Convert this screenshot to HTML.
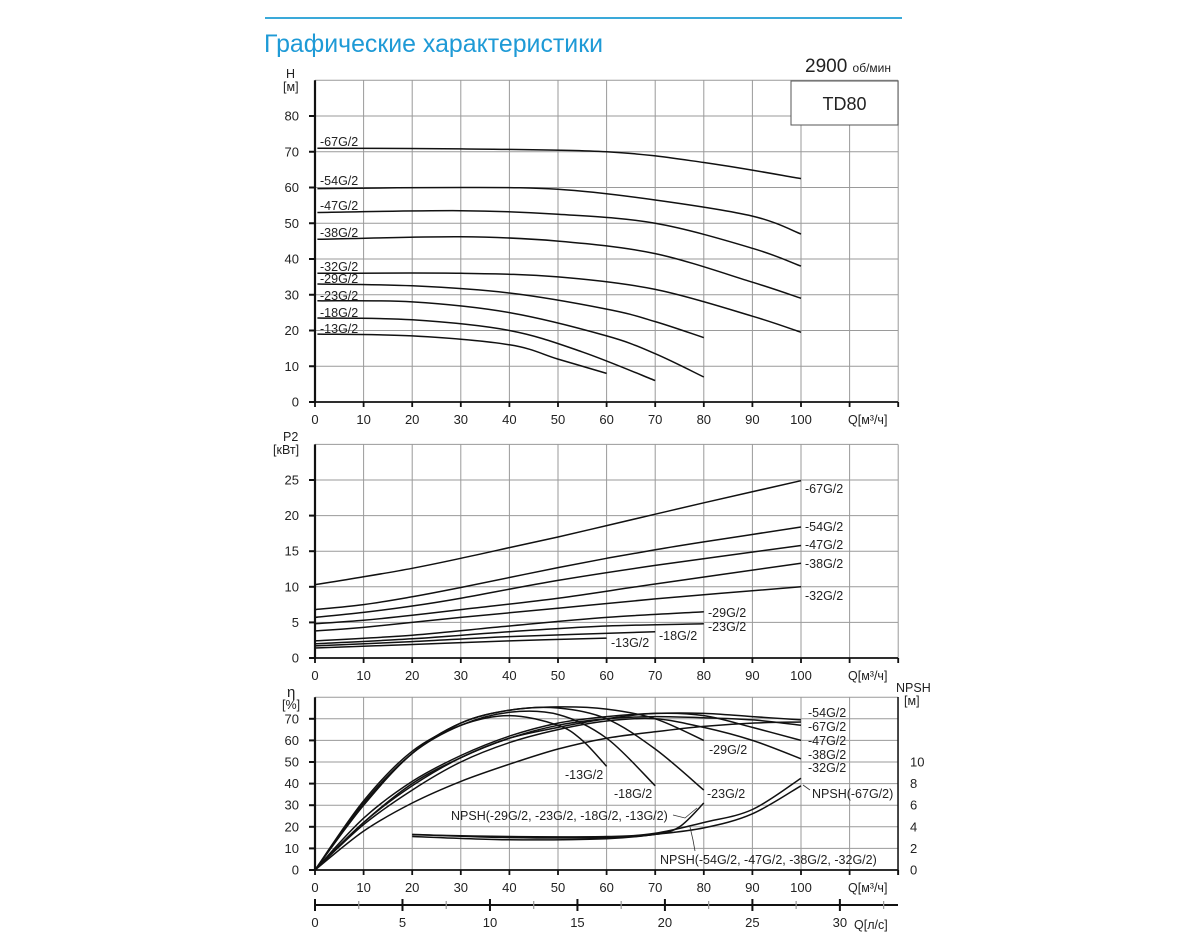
<!DOCTYPE html>
<html><head><meta charset="utf-8">
<style>
html,body{margin:0;padding:0;background:#fff;}
svg{display:block;font-family:"Liberation Sans",Arial,sans-serif;}
</style></head>
<body>
<svg id="s" width="1200" height="950" viewBox="0 0 1200 950" xmlns="http://www.w3.org/2000/svg">
<line x1="265" y1="18" x2="902" y2="18" stroke="#3aa9d9" stroke-width="2"/>
<text x="264" y="52" font-size="25" fill="#1e9ad6" textLength="339" lengthAdjust="spacingAndGlyphs">Графические характеристики</text>
<text x="805" y="72" font-size="19" fill="#222">2900 <tspan font-size="12">об/мин</tspan></text>
<g id="grid"></g>
<g id="curves" fill="none" stroke="#111" stroke-width="1.5"></g>
<rect x="791" y="81" width="107" height="44" fill="#fff" stroke="#555" stroke-width="1"/>
<text x="844.5" y="110" font-size="18" text-anchor="middle" fill="#222">TD80</text>
<g font-size="12.5" fill="#222">
<text x="286" y="78">H</text><text x="283" y="91">[м]</text>
<text x="283" y="441">P2</text><text x="273" y="454">[кВт]</text>
<text x="287" y="697" font-size="15">η</text><text x="282" y="709">[%]</text>
<text x="896" y="692">NPSH</text><text x="904" y="705">[м]</text>
<text x="848" y="424">Q[м³/ч]</text>
<text x="848" y="680">Q[м³/ч]</text>
<text x="848" y="892">Q[м³/ч]</text>
<text x="854" y="929">Q[л/с]</text>
</g>
<g font-size="12.5" fill="#222">
<text x="320" y="146">-67G/2</text>
<text x="320" y="185">-54G/2</text>
<text x="320" y="210">-47G/2</text>
<text x="320" y="237">-38G/2</text>
<text x="320" y="271">-32G/2</text>
<text x="320" y="283">-29G/2</text>
<text x="320" y="300">-23G/2</text>
<text x="320" y="317">-18G/2</text>
<text x="320" y="333">-13G/2</text>

<text x="805" y="493">-67G/2</text>
<text x="805" y="531">-54G/2</text>
<text x="805" y="549">-47G/2</text>
<text x="805" y="568">-38G/2</text>
<text x="805" y="600">-32G/2</text>
<text x="708" y="617">-29G/2</text>
<text x="708" y="631">-23G/2</text>
<text x="659" y="640">-18G/2</text>
<text x="611" y="647">-13G/2</text>

<text x="808" y="717">-54G/2</text>
<text x="808" y="731">-67G/2</text>
<text x="808" y="745">-47G/2</text>
<text x="808" y="759">-38G/2</text>
<text x="808" y="772">-32G/2</text>
<text x="709" y="754">-29G/2</text>
<text x="565" y="779">-13G/2</text>
<text x="614" y="798">-18G/2</text>
<text x="707" y="798">-23G/2</text>
<text x="812" y="798">NPSH(-67G/2)</text>
<text x="451" y="820">NPSH(-29G/2, -23G/2, -18G/2, -13G/2)</text>
<text x="660" y="864">NPSH(-54G/2, -47G/2, -38G/2, -32G/2)</text>
</g>
<g stroke="#333" stroke-width="0.8" fill="none">
<polyline points="673,815 685,818 697,808"/>
<polyline points="695,851 693,840 690,827"/>
<polyline points="810,790 803,785"/>
</g>
<g id="ticks" font-size="13" fill="#222"></g>
</svg>
<script>
var NS="http://www.w3.org/2000/svg";
function el(p,t,a,txt){var e=document.createElementNS(NS,t);for(var k in a)e.setAttribute(k,a[k]);if(txt!==undefined)e.textContent=txt;p.appendChild(e);return e;}
var X=function(q){return 315+q*4.86;};
var grid=document.getElementById('grid'),cur=document.getElementById('curves'),tk=document.getElementById('ticks');
var panels=[
 {y0:402,k:3.575,max:90,step:10,lab:[0,10,20,30,40,50,60,70,80],xl:419},
 {y0:658,k:7.12,max:30,step:5,lab:[0,5,10,15,20,25],xl:675},
 {y0:870,k:2.16,max:80,step:10,lab:[0,10,20,30,40,50,60,70],xl:887}
];
panels.forEach(function(p){
 var top=p.y0-p.max*p.k;
 for(var v=p.step;v<=p.max;v+=p.step){var y=p.y0-v*p.k;el(grid,'line',{x1:315,x2:898,y1:y,y2:y,stroke:'#9a9a9a','stroke-width':1});}
 for(var q=10;q<=120;q+=10){el(grid,'line',{x1:X(q),x2:X(q),y1:top,y2:p.y0,stroke:'#9a9a9a','stroke-width':1});}
 el(grid,'line',{x1:315,x2:315,y1:top,y2:p.y0+1,stroke:'#111','stroke-width':2.2});
 el(grid,'line',{x1:314,x2:898,y1:p.y0,y2:p.y0,stroke:'#111','stroke-width':1.8});
 p.lab.forEach(function(v){var y=p.y0-v*p.k;el(grid,'line',{x1:309,x2:315,y1:y,y2:y,stroke:'#111','stroke-width':2});
  el(tk,'text',{x:299,y:y+4.5,'text-anchor':'end'},String(v));});
 for(var q=0;q<=120;q+=10){el(grid,'line',{x1:X(q),x2:X(q),y1:p.y0,y2:p.y0+5,stroke:'#111','stroke-width':1.8});
  if(q<=100)el(tk,'text',{x:X(q),y:p.xl+5,'text-anchor':'middle'},String(q));}
});
[0,2,4,6,8,10].forEach(function(v){var y=870-v*10.8;el(tk,'text',{x:910,y:y+4.5},String(v));});
el(grid,'line',{x1:898,x2:898,y1:697,y2:875,stroke:'#111','stroke-width':1.5});
el(grid,'line',{x1:315,x2:898,y1:905,y2:905,stroke:'#111','stroke-width':2});
for(var l=0;l<=32.5;l+=2.5){var x=X(l*3.6),maj=(l%5===0);
 el(grid,'line',{x1:x,x2:x,y1:maj?899:901,y2:maj?911:909,stroke:maj?'#111':'#999','stroke-width':maj?2:1.2});
 if(maj)el(tk,'text',{x:x,y:927,'text-anchor':'middle'},String(l));}
function path(pts,p){
 var P=pts.map(function(a){return [X(a[0]),p.y0-a[1]*p.k];});
 var d='M'+P[0][0].toFixed(1)+','+P[0][1].toFixed(1);
 for(var i=0;i<P.length-1;i++){var p0=P[i-1]||P[i],p1=P[i],p2=P[i+1],p3=P[i+2]||p2;
  var c1=[p1[0]+(p2[0]-p0[0])/6,p1[1]+(p2[1]-p0[1])/6],c2=[p2[0]-(p3[0]-p1[0])/6,p2[1]-(p3[1]-p1[1])/6];
  d+='C'+c1[0].toFixed(1)+','+c1[1].toFixed(1)+' '+c2[0].toFixed(1)+','+c2[1].toFixed(1)+' '+p2[0].toFixed(1)+','+p2[1].toFixed(1);}
 el(cur,'path',{d:d});
}
var H=[
[[0.5,71],[30,70.8],[60,70],[80,67],[100,62.5]],
[[0.5,59.7],[30,60],[50,59.5],[70,56.5],[90,52],[100,47]],
[[0.5,53],[30,53.5],[50,52.5],[70,50],[90,43],[100,38]],
[[0.5,45.5],[30,46.2],[50,45],[70,41.5],[90,33.5],[100,29]],
[[0.5,36],[30,36],[50,35],[70,31.5],[90,24],[100,19.5]],
[[0.5,33],[20,32.5],[40,30.5],[60,26],[70,22.5],[80,18]],
[[0.5,28.3],[20,28],[40,25],[60,18.5],[70,13.5],[80,7]],
[[0.5,23.5],[20,23],[40,20],[55,14],[70,6]],
[[0.5,19],[20,18.5],[40,16],[50,12],[60,8]]];
H.forEach(function(c){path(c,panels[0]);});
var P2=[
[[0,10.3],[10,11.4],[20,12.6],[30,14],[40,15.5],[50,17],[60,18.6],[70,20.2],[80,21.8],[100,24.9]],
[[0,6.8],[10,7.5],[20,8.6],[30,9.9],[40,11.3],[50,12.7],[60,14],[70,15.2],[80,16.3],[100,18.4]],
[[0,5.7],[10,6.4],[20,7.3],[30,8.4],[50,10.9],[70,13],[100,15.8]],
[[0,4.8],[10,5.3],[20,6],[30,6.8],[50,8.4],[70,10.4],[100,13.3]],
[[0,3.8],[10,4.3],[30,5.7],[50,7],[70,8.3],[100,10]],
[[0,2.4],[20,3.2],[40,4.5],[60,5.7],[80,6.5]],
[[0,2],[20,2.7],[40,3.7],[60,4.5],[80,4.8]],
[[0,1.7],[20,2.3],[40,3],[70,3.7]],
[[0,1.4],[20,1.9],[40,2.4],[60,2.8]]];
P2.forEach(function(c){path(c,panels[1]);});
var E=[
[[0,0],[10,32],[20,55],[30,67],[40,71.5],[50,67],[55,60],[60,48]],
[[0,0],[10,31],[20,54],[30,67],[40,73],[50,72],[60,61],[70,39]],
[[0,0],[10,30],[20,54],[30,68],[40,74],[50,75],[60,70],[70,56],[80,37]],
[[0,0],[10,30],[20,54],[30,68],[40,74],[50,75.5],[60,74.5],[70,70],[80,60]],
[[0,0],[10,24],[20,41],[30,53],[40,62],[50,68],[60,71],[70,72.5],[80,72.5],[90,71],[100,69.5]],
[[0,0],[10,22],[20,40],[30,52],[40,61],[50,67],[60,70],[70,71],[80,70.5],[90,69.5],[100,67]],
[[0,0],[10,22],[20,39],[30,52],[40,61],[50,66],[60,70],[70,72.5],[80,71.5],[90,66],[100,60]],
[[0,0],[10,21],[20,37],[30,50],[40,59],[50,65],[60,69],[70,70],[80,66],[90,60],[100,51.5]],
[[0,0],[10,18],[20,31],[30,41],[40,49],[50,56],[60,61],[70,64],[80,66.5],[90,68],[100,68.5]],
[[20,16.5],[40,15],[60,15],[70,16.5],[75,20],[80,31]],
[[20,16.3],[40,15.5],[60,15.5],[70,17],[80,22],[90,28],[100,42.5]],
[[20,15.5],[40,14],[60,14.5],[70,16.5],[80,19.5],[90,26],[100,39]]];
E.forEach(function(c){path(c,panels[2]);});
</script>
</body></html>
